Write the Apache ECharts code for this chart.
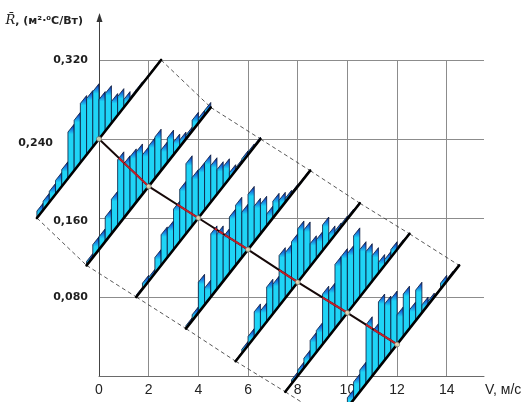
<!DOCTYPE html>
<html>
<head>
<meta charset="utf-8">
<script src="https://cdn.jsdelivr.net/npm/echarts@6/dist/echarts.min.js"></script>
<style>
  html, body { margin: 0; padding: 0; background: #fff; }
  #chart { width: 521px; height: 402px; }
</style>
</head>
<body>
<div id="chart"></div>
<script>
// Air velocity (m/s) at which each distribution was measured
const speeds = [0, 2, 4, 6, 8, 10, 12];
// Mean thermal resistance at each velocity
const meanR = [0.240, 0.192, 0.160, 0.128, 0.095, 0.064, 0.032];

// Class frequencies (drawn as heights in R units), 20 classes along each slanted base
const hist0  = [0.007, 0.009, 0.011, 0.014, 0.017, 0.047, 0.051, 0.060, 0.057, 0.056, 0.040, 0.038, 0.022, 0.019, 0.008, 0.002, 0.002, 0.001, 0.001, 0.001];
const hist2  = [0.004, 0.013, 0.013, 0.025, 0.035, 0.067, 0.055, 0.054, 0.051, 0.040, 0.041, 0.042, 0.021, 0.025, 0.013, 0.007, 0.004, 0.011, 0.005, 0.005];
const hist4  = [0.002, 0.006, 0.004, 0.016, 0.031, 0.029, 0.041, 0.053, 0.071, 0.049, 0.048, 0.048, 0.037, 0.025, 0.020, 0.006, 0.003, 0.004, 0.003, 0.002];
const hist6  = [0.003, 0.006, 0.031, 0.017, 0.064, 0.056, 0.045, 0.057, 0.061, 0.046, 0.056, 0.036, 0.030, 0.012, 0.017, 0.010, 0.004, 0.002, 0.001, 0.001];
const hist8  = [0.001, 0.004, 0.009, 0.026, 0.019, 0.035, 0.030, 0.051, 0.046, 0.049, 0.054, 0.045, 0.023, 0.019, 0.026, 0.009, 0.004, 0.003, 0.002, 0.001];
const hist10 = [0.001, 0.004, 0.006, 0.010, 0.020, 0.022, 0.051, 0.046, 0.065, 0.065, 0.060, 0.070, 0.048, 0.038, 0.026, 0.011, 0.006, 0.008, 0.002, 0.001];
const hist12 = [0.002, 0.004, 0.010, 0.018, 0.022, 0.060, 0.045, 0.067, 0.057, 0.054, 0.030, 0.043, 0.019, 0.031, 0.008, 0.004, 0.001, 0.006, 0.002, 0.001];
const histograms = [hist0, hist2, hist4, hist6, hist8, hist10, hist12];

// Axis ticks
const xTickStep = 2;
const yTickStep = 0.08;
const yMax = 0.32;
const xMax = 15.5;

// Each histogram sits on a slanted base running through its mean point
const HALF_V = 2.5;    // half extent of the base along V
const HALF_R = 0.08;   // half extent of the base along R
const CLASSES = 20;

// Flatten histogram columns: [V, meanR, classIndex, height, prevV, prevMeanR]
const barData = [];
histograms.forEach((hist, j) => {
  const pj = j > 0 ? j - 1 : j;
  hist.forEach((h, k) => {
    barData.push([speeds[j], meanR[j], k, h, speeds[pj], meanR[pj]]);
  });
});

const meanPoints = speeds.map((v, i) => [v, meanR[i]]);

// Dashed envelope joining the ends of neighbouring bases: [V0, R0, V1, R1]
const envelopeData = [];
for (let i = 0; i + 1 < speeds.length; i++) {
  envelopeData.push([speeds[i] + HALF_V, meanR[i] + HALF_R, speeds[i + 1] + HALF_V, meanR[i + 1] + HALF_R]);
  envelopeData.push([speeds[i] - HALF_V, meanR[i] - HALF_R, speeds[i + 1] - HALF_V, meanR[i + 1] - HALF_R]);
}

// Pixel corners of one column: base-left, base-right, top-right, top-left
function columnCorners(api) {
  const V = api.value(0), R = api.value(1), k = api.value(2), h = api.value(3);
  const t0 = k / CLASSES, t1 = (k + 1) / CLASSES;
  const v0 = V - HALF_V + 2 * HALF_V * t0, r0 = R - HALF_R + 2 * HALF_R * t0;
  const v1 = V - HALF_V + 2 * HALF_V * t1, r1 = R - HALF_R + 2 * HALF_R * t1;
  return [api.coord([v0, r0]), api.coord([v1, r1]), api.coord([v1, r1 + h]), api.coord([v0, r0 + h])];
}

function renderColumn(params, api) {
  if (!(api.value(3) > 0)) return null;
  const p = columnCorners(api);
  const fill = new echarts.graphic.LinearGradient(0, p[2][1], 0, p[3][1] + 2, [
    { offset: 0, color: '#0a1a72' },
    { offset: 0.4, color: '#1766d8' },
    { offset: 1, color: '#1fd4f6' }
  ], true);
  return {
    type: 'polygon',
    shape: { points: p },
    style: { fill: fill, stroke: '#07163a', lineWidth: 0.8 }
  };
}

// Part of the mean line (from previous mean to this one) lying over a column, drawn red
function clipPositive(xa, xb, fa, fb) {
  if (fa >= 0 && fb >= 0) return [xa, xb];
  if (fa < 0 && fb < 0) return null;
  const xr = xa + fa / (fa - fb) * (xb - xa);
  return fa >= 0 ? [xa, xr] : [xr, xb];
}

function renderCrossing(params, api) {
  if (!(api.value(3) > 0)) return null;
  const p = columnCorners(api);
  const m0 = api.coord([api.value(4), api.value(5)]);
  const m1 = api.coord([api.value(0), api.value(1)]);
  if (m1[0] - m0[0] < 1) return null;
  let xa = Math.max(p[0][0], m0[0]), xb = Math.min(p[1][0], m1[0]);
  if (xb <= xa) return null;
  const lineY = x => m0[1] + (x - m0[0]) * (m1[1] - m0[1]) / (m1[0] - m0[0]);
  const baseY = x => p[0][1] + (x - p[0][0]) * (p[1][1] - p[0][1]) / (p[1][0] - p[0][0]);
  const hpx = p[0][1] - p[3][1];
  const below = x => baseY(x) - lineY(x);          // line above the base
  const under = x => lineY(x) - (baseY(x) - hpx);  // line below the column top
  let seg = clipPositive(xa, xb, below(xa), below(xb));
  if (!seg) return null;
  seg = clipPositive(seg[0], seg[1], under(seg[0]), under(seg[1]));
  if (!seg || seg[1] - seg[0] < 0.2) return null;
  return {
    type: 'line',
    shape: { x1: seg[0], y1: lineY(seg[0]), x2: seg[1], y2: lineY(seg[1]) },
    style: { stroke: '#c4202a', lineWidth: 2 }
  };
}

function renderBase(params, api) {
  const V = api.value(0), R = api.value(1);
  const a = api.coord([V - HALF_V, R - HALF_R]);
  const b = api.coord([V + HALF_V, R + HALF_R]);
  return {
    type: 'line',
    shape: { x1: a[0], y1: a[1], x2: b[0], y2: b[1] },
    style: { stroke: '#000', lineWidth: 2.6, lineCap: 'round' }
  };
}

function renderEnvelope(params, api) {
  const a = api.coord([api.value(0), api.value(1)]);
  const b = api.coord([api.value(2), api.value(3)]);
  return {
    type: 'line',
    shape: { x1: a[0], y1: a[1], x2: b[0], y2: b[1] },
    style: { stroke: '#444', lineWidth: 0.9, lineDash: [4, 3] }
  };
}

const fmtR = v => v.toFixed(3).replace('.', ',');
const gridColor = '#8c8c8c';
const tickFont = { fontFamily: 'DejaVu Sans', fontWeight: 'bold', fontSize: 11, color: '#1e1e1e' };
const narrowFont = 'Liberation Sans Narrow, Liberation Sans, sans-serif';

const chart = echarts.init(document.getElementById('chart'), null, { renderer: 'canvas' });
chart.setOption({
  animation: false,
  backgroundColor: '#fff',
  grid: { left: 99, right: 37, top: 60, bottom: 26, containLabel: false, outerBoundsMode: 'none' },
  xAxis: {
    type: 'value', min: 0, max: xMax, interval: xTickStep,
    name: 'V, м/с', nameLocation: 'end', nameGap: 1,
    nameTextStyle: { fontFamily: narrowFont, fontSize: 14, color: '#222', verticalAlign: 'top', padding: [7, 0, 0, 0] },
    axisLine: { lineStyle: { color: '#6a6a6a', width: 1 } },
    axisTick: { show: false },
    axisLabel: { margin: 7, fontFamily: narrowFont, fontSize: 14, color: '#222', showMaxLabel: false },
    splitLine: { show: true, showMaxLine: false, lineStyle: { color: gridColor, width: 1 } }
  },
  yAxis: {
    type: 'value', min: 0, max: yMax, interval: yTickStep,
    name: '{r|R\u0304}{t|, (м²·⁰С/Вт)}', nameLocation: 'end', nameGap: 39,
    nameTextStyle: {
      align: 'right', verticalAlign: 'middle', padding: [0, 16, 0, 0],
      rich: {
        r: { fontFamily: 'DejaVu Serif', fontStyle: 'italic', fontSize: 13, color: '#222' },
        t: { fontFamily: 'DejaVu Sans', fontWeight: 'bold', fontSize: 11, color: '#222' }
      }
    },
    axisLine: { show: true, lineStyle: { color: '#444', width: 1 } },
    axisTick: { show: false },
    axisLabel: Object.assign({
      margin: 11, showMinLabel: false,
      formatter: v => {
        const s = fmtR(v);
        if (Math.abs(v - 0.24) < 1e-9) return '{far|' + s + '}';
        if (Math.abs(v - 0.16) < 1e-9) return '{low|' + s + '}';
        return s;
      },
      rich: {
        far: Object.assign({ padding: [9, 35, 0, 0] }, tickFont),
        low: Object.assign({ padding: [7, 0, 0, 0] }, tickFont)
      }
    }, tickFont),
    splitLine: { show: true, lineStyle: { color: gridColor, width: 1 } }
  },
  graphic: [
    { type: 'line', z: 10, shape: { x1: 99.5, y1: 60, x2: 99.5, y2: 20 }, style: { stroke: '#444', lineWidth: 1 } },
    { type: 'polygon', z: 10, shape: { points: [[99.5, 13], [96.5, 22], [102.5, 22]] }, style: { fill: '#333' } }
  ],
  series: [
    {
      name: 'envelope', type: 'custom', data: envelopeData, renderItem: renderEnvelope, silent: true, z: 2,
      clip: false, encode: { x: 0, y: 1 }
    },
    {
      name: 'columns', type: 'custom', data: barData, renderItem: renderColumn, silent: true, z: 3,
      clip: false, encode: { x: 0, y: 1 }
    },
    {
      name: 'bases', type: 'custom', data: meanPoints, renderItem: renderBase, silent: true, z: 4,
      clip: false, encode: { x: 0, y: 1 }
    },
    {
      name: 'mean', type: 'line', data: meanPoints, symbol: 'none', silent: true, z: 5,
      lineStyle: { color: '#160808', width: 2 }
    },
    {
      name: 'mean-over-columns', type: 'custom', data: barData, renderItem: renderCrossing, silent: true, z: 6,
      clip: false, encode: { x: 0, y: 1 }
    },
    {
      name: 'mean-points', type: 'scatter', data: meanPoints, symbol: 'circle', symbolSize: 5, silent: true, z: 7,
      itemStyle: { color: '#fffbd2', borderColor: '#555', borderWidth: 0.8 }
    }
  ]
});
</script>
</body>
</html>
